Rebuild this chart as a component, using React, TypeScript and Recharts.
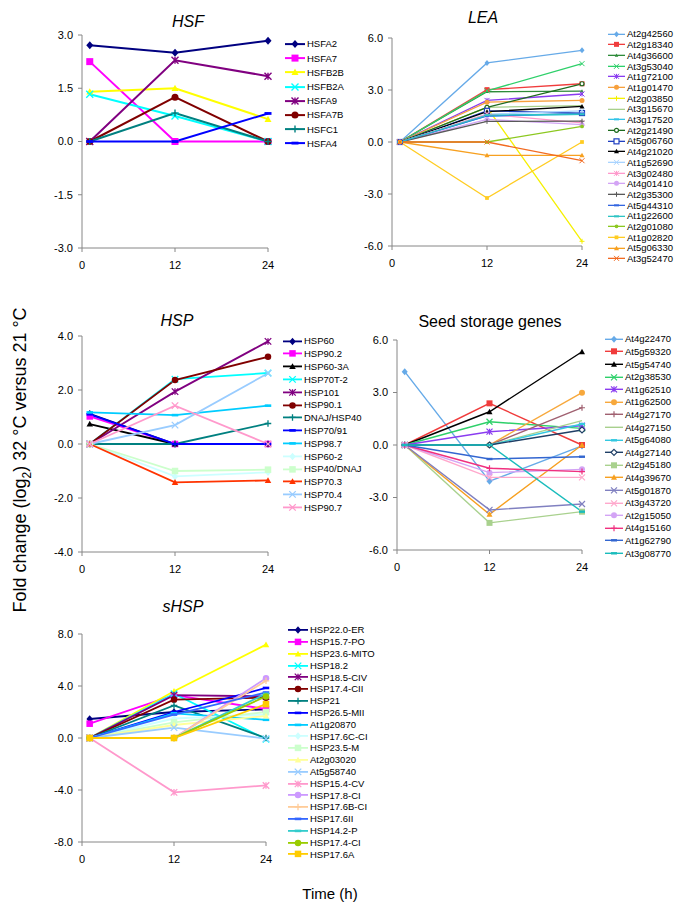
import React from "react"
import { LineChart, Line, XAxis, YAxis } from "recharts"

const FONT = '"Liberation Sans", Arial, sans-serif'

// sampling times (h) and axis ticks
const timePoints = [1, 12, 24]
const timeTicks = [0, 12, 24]

// HSF
const hsfGenes = ["HSFA2", "HSFA7", "HSFB2B", "HSFB2A", "HSFA9", "HSFA7B", "HSFC1", "HSFA4"]
const hsfValues = [
  [2.71, 2.5, 2.84],
  [2.25, 0, 0],
  [1.4, 1.5, 0.63],
  [1.33, 0.72, 0],
  [0, 2.29, 1.84],
  [0, 1.25, 0],
  [0, 0.8, 0],
  [0, 0, 0.79],
]
const hsfTicks = [-3, -1.5, 0, 1.5, 3]

// LEA
const leaGenes = [
  "At2g42560", "At2g18340", "At4g36600", "At3g53040", "At1g72100", "At1g01470",
  "At2g03850", "At3g15670", "At3g17520", "At2g21490", "At5g06760", "At4g21020",
  "At1g52690", "At3g02480", "At4g01410", "At2g35300", "At5g44310", "At1g22600",
  "At2g01080", "At1g02820", "At5g06330", "At3g52470",
]
const leaValues = [
  [0, 4.56, 5.29],
  [0, 3.02, 3.36],
  [0, 2.9, 2.94],
  [0, 2.95, 4.52],
  [0, 2.4, 2.77],
  [0, 2.3, 2.4],
  [0, 2.0, -5.73],
  [0, 2.0, 2.1],
  [0, 1.5, 1.6],
  [0, 2.0, 3.36],
  [0, 1.8, 1.67],
  [0, 1.75, 2.05],
  [0, 1.6, 1.8],
  [0, 1.6, 1.1],
  [0, 1.3, 1.0],
  [0, 1.19, 1.2],
  [0, 1.5, 1.65],
  [0, 1.55, 1.6],
  [0, 0, 0.9],
  [0, -3.23, 0],
  [0, -0.77, -0.77],
  [0, 0, -1.08],
]
const leaTicks = [-6, -3, 0, 3, 6]

// HSP
const hspGenes = [
  "HSP60", "HSP90.2", "HSP60-3A", "HSP70T-2", "HSP101", "HSP90.1", "DNAJ/HSP40",
  "HSP70/91", "HSP98.7", "HSP60-2", "HSP40/DNAJ", "HSP70.3", "HSP70.4", "HSP90.7",
]
const hspValues = [
  [1.12, 0, 0],
  [1.02, 0, 0],
  [0.74, 0, 0],
  [0, 2.4, 2.63],
  [0, 1.94, 3.8],
  [0, 2.37, 3.23],
  [0, 0, 0.76],
  [1.1, 0, 0],
  [1.17, 1.07, 1.42],
  [0, -1.2, -1.05],
  [0, -1.0, -0.95],
  [0, -1.42, -1.35],
  [0, 0.7, 2.62],
  [0, 1.42, 0],
]
const hspTicks = [-4, -2, 0, 2, 4]

// Seed storage genes
const seedGenes = [
  "At4g22470", "At5g59320", "At5g54740", "At2g38530", "At1g62510", "At1g62500",
  "At4g27170", "At4g27150", "At5g64080", "At4g27140", "At2g45180", "At4g39670",
  "At5g01870", "At3g43720", "At2g15050", "At4g15160", "At1g62790", "At3g08770",
]
const seedValues = [
  [4.19, -2.07, -0.05],
  [0, 2.38, 0],
  [0, 1.9, 5.33],
  [0, 1.33, 0.95],
  [0, 0.76, 1.1],
  [0, 0, 2.99],
  [0, 0, 2.13],
  [0, 0, 1.39],
  [0, 0, 1.2],
  [0, 0, 0.86],
  [0, -4.45, -3.81],
  [0, -3.96, 0],
  [0, -3.71, -3.37],
  [0, -1.85, -1.85],
  [0, -1.58, -1.39],
  [0, -1.33, -1.52],
  [0, -0.8, -0.67],
  [0, 0, -3.81],
]
const seedTicks = [-6, -3, 0, 3, 6]

// sHSP
const shspGenes = [
  "HSP22.0-ER", "HSP15.7-PO", "HSP23.6-MITO", "HSP18.2", "HSP18.5-CIV", "HSP17.4-CII",
  "HSP21", "HSP26.5-MII", "At1g20870", "HSP17.6C-CI", "HSP23.5-M", "At2g03020",
  "At5g58740", "HSP15.4-CV", "HSP17.8-CI", "HSP17.6B-CI", "HSP17.6II", "HSP14.2-P",
  "HSP17.4-CI", "HSP17.6A",
]
const shspValues = [
  [1.46, 2.0, 2.2],
  [1.1, 3.3, 2.23],
  [0, 3.6, 7.18],
  [0, 3.4, -0.1],
  [0, 3.3, 3.2],
  [0, 2.95, 3.1],
  [0, 2.5, 0],
  [0, 2.0, 3.85],
  [0, 1.9, 1.4],
  [0, 1.5, 1.8],
  [0, 1.2, 2.0],
  [0, 1.0, 1.7],
  [0, 0.8, -0.05],
  [0, -4.18, -3.65],
  [0, 0, 4.6],
  [0, 0, 4.4],
  [0, 1.8, 3.5],
  [0, 0, 3.4],
  [0, 0, 3.2],
  [0, 0, 2.6],
]
const shspTicks = [-8, -4, 0, 4, 8]

// styles (Excel-like palette and markers)
const xlColors = [
  "#000080", "#FF00FF", "#FFFF00", "#00FFFF", "#800080", "#800000", "#008080", "#0000FF",
  "#00CCFF", "#CCFFFF", "#CCFFCC", "#FFFF99", "#99CCFF", "#FF99CC", "#CC99FF", "#FFCC99",
  "#3366FF", "#33CCCC", "#99CC00", "#FFCC00",
]
const xlShapes = [
  "diamond", "square", "triangle", "x", "star", "circle", "plus", "dash",
  "dash", "diamond", "square", "triangle", "x", "star", "circle", "plus",
  "dash", "dash", "circle", "square",
]
const hspColors = [
  "#000080", "#FF00FF", "#000000", "#00FFFF", "#800080", "#800000", "#008080", "#0000FF",
  "#00CCFF", "#CCFFFF", "#CCFFCC", "#FF3300", "#99CCFF", "#FF99CC",
]
const hspShapes = [
  "diamond", "square", "triangle", "x", "star", "circle", "plus", "dash",
  "dash", "diamond", "square", "triangle", "x", "x",
]
const leaColors = [
  "#66AAE8", "#F03C3C", "#2E8B3A", "#2ED06A", "#8A3CF0", "#F7A03C", "#F5F000", "#A8D08D",
  "#33C4E8", "#1E6B1E", "#1F3FC0", "#000000", "#A9D4FF", "#FF99CC", "#D3A4F5", "#595959",
  "#3366E0", "#2EC4C4", "#8CC820", "#FFCC22", "#F7A020", "#F26A20",
]
const leaShapes = [
  "diamond", "square", "smalltri", "x", "star", "circle", "plus", "none",
  "dash", "ocircle", "osquare", "triangle", "x", "star", "circle", "plus",
  "dash", "dash", "smallcircle", "smallsquare", "triangle", "x",
]
const seedColors = [
  "#66AAE8", "#F03C3C", "#000000", "#2ED06A", "#8A3CF0", "#F7A83C", "#A06070", "#A8D08D",
  "#33C8E0", "#1F3F66", "#A9D18E", "#F7A020", "#8080C0", "#FFA8CC", "#D3A4F5", "#F0307F",
  "#3366D0", "#1ABCBC",
]
const seedShapes = [
  "diamond", "square", "triangle", "x", "star", "circle", "plus", "none",
  "dash", "odiamond", "square", "triangle", "x", "x", "circle", "plus",
  "dash", "dash",
]

function Mark({ shape, x, y, color, size }: { shape: string; x: number; y: number; color: string; size: number }) {
  if (x == null || y == null) return null
  const r = size / 2
  const sw = Math.max(1, size / 5)
  switch (shape) {
    case "diamond":
      return <polygon points={`${x},${y - r - 0.5} ${x + r},${y} ${x},${y + r + 0.5} ${x - r},${y}`} fill={color} />
    case "square":
      return <rect x={x - r} y={y - r} width={size} height={size} fill={color} />
    case "smallsquare":
      return <rect x={x - r * 0.75} y={y - r * 0.75} width={size * 0.75} height={size * 0.75} fill={color} />
    case "triangle":
      return <polygon points={`${x},${y - r} ${x + r},${y + r * 0.8} ${x - r},${y + r * 0.8}`} fill={color} />
    case "smalltri":
      return <polygon points={`${x},${y - r * 0.7} ${x + r * 0.7},${y + r * 0.55} ${x - r * 0.7},${y + r * 0.55}`} fill={color} />
    case "x":
      return <path d={`M${x - r},${y - r}L${x + r},${y + r}M${x - r},${y + r}L${x + r},${y - r}`} stroke={color} strokeWidth={sw} fill="none" />
    case "star":
      return <path d={`M${x - r},${y - r}L${x + r},${y + r}M${x - r},${y + r}L${x + r},${y - r}M${x},${y - r}L${x},${y + r}`} stroke={color} strokeWidth={sw} fill="none" />
    case "circle":
      return <circle cx={x} cy={y} r={r} fill={color} />
    case "smallcircle":
      return <circle cx={x} cy={y} r={r * 0.75} fill={color} />
    case "plus":
      return <path d={`M${x},${y - r}L${x},${y + r}M${x - r},${y}L${x + r},${y}`} stroke={color} strokeWidth={sw} fill="none" />
    case "dash":
      return <rect x={x - r} y={y - sw} width={size} height={sw * 2} fill={color} />
    case "ocircle":
      return <circle cx={x} cy={y} r={r * 0.8} fill="#fff" stroke={color} strokeWidth={1.2} />
    case "osquare":
      return <rect x={x - r} y={y - r} width={size} height={size} fill="#fff" stroke={color} strokeWidth={1.2} />
    case "odiamond":
      return <polygon points={`${x},${y - r} ${x + r},${y} ${x},${y + r} ${x - r},${y}`} fill="#fff" stroke={color} strokeWidth={1.2} />
    default:
      return null
  }
}

interface PanelCfg {
  title: string
  italic: boolean
  titleX: number
  titleY: number
  axisX: number
  plotRight: number
  plotTop: number
  plotBottom: number
  domain: [number, number]
  ticks: number[]
  genes: string[]
  values: number[][]
  colors: string[]
  shapes: string[]
  lineWidth: number
  markSize: number
  legendX: number
  legendLine: number
  legendY: number
  legendStep: number
}

const axisColor = "#868686"

function Panel({ cfg }: { cfg: PanelCfg }) {
  const yw = 56
  const mt = 8
  const mr = 12
  const xh = 30
  const left = cfg.axisX - yw
  const width = cfg.plotRight - left + mr
  const top = cfg.plotTop - mt
  const height = mt + (cfg.plotBottom - cfg.plotTop) + xh

  const rows = timePoints.map((t, i) => {
    const row: Record<string, number> = { t }
    cfg.values.forEach((v, k) => {
      row[`s${k}`] = v[i]
    })
    return row
  })

  return (
    <>
      <div style={{ position: "absolute", left, top }}>
        <LineChart width={width} height={height} data={rows} margin={{ top: mt, right: mr, bottom: 0, left: 0 }}>
          <XAxis
            dataKey="t"
            type="number"
            domain={[0, 24]}
            ticks={timeTicks}
            interval={0}
            height={xh}
            axisLine={{ stroke: axisColor }}
            tickLine={{ stroke: axisColor }}
            tickSize={4}
            tickMargin={9}
            tick={{ fill: "#000", fontSize: 11, fontFamily: FONT }}
          />
          <YAxis
            type="number"
            domain={cfg.domain}
            ticks={cfg.ticks}
            interval={0}
            width={yw}
            axisLine={{ stroke: axisColor }}
            tickLine={{ stroke: axisColor }}
            tickSize={4}
            tickMargin={5}
            tick={{ fill: "#000", fontSize: 11, fontFamily: FONT }}
            tickFormatter={(v: number) => v.toFixed(1)}
          />
          {cfg.genes.map((g, k) => (
            <Line
              key={g}
              dataKey={`s${k}`}
              type="linear"
              stroke={cfg.colors[k]}
              strokeWidth={cfg.lineWidth}
              isAnimationActive={false}
              activeDot={false}
              dot={(p: any) => (
                <Mark key={`${g}-${p.index}`} shape={cfg.shapes[k]} x={p.cx} y={p.cy} color={cfg.colors[k]} size={cfg.markSize} />
              )}
            />
          ))}
        </LineChart>
      </div>
      <div
        style={{
          position: "absolute",
          left: cfg.titleX,
          top: cfg.titleY,
          transform: "translate(-50%, -50%)",
          fontSize: 16,
          fontStyle: cfg.italic ? "italic" : "normal",
          whiteSpace: "nowrap",
        }}
      >
        {cfg.title}
      </div>
      {cfg.genes.map((g, k) => (
        <div
          key={g}
          style={{
            position: "absolute",
            left: cfg.legendX,
            top: cfg.legendY + k * cfg.legendStep - cfg.legendStep / 2,
            height: cfg.legendStep,
            display: "flex",
            alignItems: "center",
            fontSize: 9.5,
            whiteSpace: "nowrap",
          }}
        >
          <svg width={cfg.legendLine} height={cfg.legendStep} style={{ display: "block" }}>
            <line
              x1={0}
              x2={cfg.legendLine}
              y1={cfg.legendStep / 2}
              y2={cfg.legendStep / 2}
              stroke={cfg.colors[k]}
              strokeWidth={cfg.lineWidth}
            />
            <Mark shape={cfg.shapes[k]} x={cfg.legendLine / 2} y={cfg.legendStep / 2} color={cfg.colors[k]} size={cfg.markSize} />
          </svg>
          <span style={{ marginLeft: 2 }}>{g}</span>
        </div>
      ))}
    </>
  )
}

const panels: PanelCfg[] = [
  {
    title: "HSF", italic: true, titleX: 188, titleY: 22,
    axisX: 82, plotRight: 268, plotTop: 35, plotBottom: 248,
    domain: [-3, 3], ticks: hsfTicks,
    genes: hsfGenes, values: hsfValues, colors: xlColors, shapes: xlShapes,
    lineWidth: 2, markSize: 7,
    legendX: 285, legendLine: 20, legendY: 44, legendStep: 14.2,
  },
  {
    title: "LEA", italic: true, titleX: 483, titleY: 18,
    axisX: 392, plotRight: 582, plotTop: 38, plotBottom: 246,
    domain: [-6, 6], ticks: leaTicks,
    genes: leaGenes, values: leaValues, colors: leaColors, shapes: leaShapes,
    lineWidth: 1.3, markSize: 5,
    legendX: 608, legendLine: 17, legendY: 34, legendStep: 10.7,
  },
  {
    title: "HSP", italic: true, titleX: 177, titleY: 321,
    axisX: 82, plotRight: 268, plotTop: 336, plotBottom: 552,
    domain: [-4, 4], ticks: hspTicks,
    genes: hspGenes, values: hspValues, colors: hspColors, shapes: hspShapes,
    lineWidth: 1.8, markSize: 6.5,
    legendX: 283, legendLine: 19, legendY: 341, legendStep: 12.8,
  },
  {
    title: "Seed storage genes", italic: false, titleX: 490, titleY: 322,
    axisX: 397, plotRight: 582, plotTop: 340, plotBottom: 550,
    domain: [-6, 6], ticks: seedTicks,
    genes: seedGenes, values: seedValues, colors: seedColors, shapes: seedShapes,
    lineWidth: 1.4, markSize: 6,
    legendX: 605, legendLine: 18, legendY: 339, legendStep: 12.6,
  },
  {
    title: "sHSP", italic: true, titleX: 183, titleY: 607,
    axisX: 82, plotRight: 266, plotTop: 634, plotBottom: 842,
    domain: [-8, 8], ticks: shspTicks,
    genes: shspGenes, values: shspValues, colors: xlColors, shapes: xlShapes,
    lineWidth: 1.8, markSize: 6.5,
    legendX: 288, legendLine: 20, legendY: 630, legendStep: 11.8,
  },
]

export default function App() {
  return (
    <div
      style={{
        position: "absolute",
        left: 0,
        top: 0,
        width: 685,
        height: 909,
        background: "#fff",
        fontFamily: FONT,
        color: "#000",
        overflow: "hidden",
      }}
    >
      {panels.map((p) => (
        <Panel key={p.title} cfg={p} />
      ))}
      <div
        style={{
          position: "absolute",
          left: 22,
          top: 460,
          transform: "translate(-50%, -50%) rotate(-90deg)",
          fontSize: 18,
          whiteSpace: "nowrap",
        }}
      >
        Fold change (log<sub style={{ fontSize: 12 }}>2</sub>) 32 °C versus 21 °C
      </div>
      <div
        style={{
          position: "absolute",
          left: 330,
          top: 893,
          transform: "translate(-50%, -50%)",
          fontSize: 15,
          whiteSpace: "nowrap",
        }}
      >
        Time (h)
      </div>
    </div>
  )
}
